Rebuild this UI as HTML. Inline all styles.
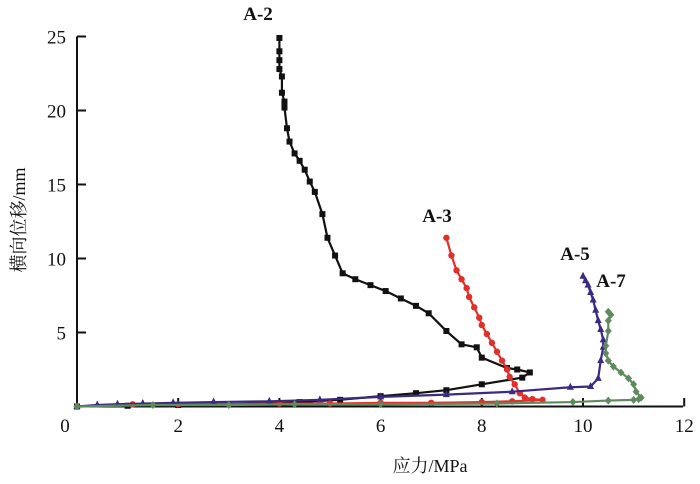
<!DOCTYPE html>
<html><head><meta charset="utf-8"><style>
body{margin:0;background:#fff;}
svg{display:block;}
text{font-family:"Liberation Serif","Noto Serif CJK SC",serif;fill:#111;}
</style></head><body>
<svg id="chart" width="700" height="484" xmlns="http://www.w3.org/2000/svg">
<g id="axes"></g>
<g id="plot"></g>
<text x="430" y="472" font-size="18" text-anchor="middle">应力/MPa</text>
<text transform="translate(25,220) rotate(-90)" font-size="18" text-anchor="middle">横向位移/mm</text>
</svg>
<script>
const xTicks=[0,2,4,6,8,10,12];
const yTicks=[5,10,15,20,25];
const a2x=[0,1,2,3,4.4,5.2,6.0,6.7,7.3,8.0,8.8,8.95,8.7,8.5,8.0,7.9,7.6,7.3,6.95,6.7,6.4,6.1,5.8,5.5,5.25,5.1,4.95,4.85,4.7,4.6,4.5,4.4,4.3,4.2,4.15,4.1,4.1,4.05,4.05,4.0,4.0,4.0,4.0];
const a2y=[0,0.05,0.1,0.15,0.3,0.45,0.7,0.9,1.1,1.5,1.95,2.3,2.5,2.6,3.3,4.0,4.2,5.1,6.3,6.8,7.3,7.8,8.2,8.6,9.0,10.2,11.4,13.0,14.5,15.2,16.0,16.6,17.1,17.9,18.8,20.2,20.6,21.2,22.3,22.8,23.4,24.0,24.9];
const a3x=[0,1.1,2,3,4,5,6,7,8,8.6,9.2,9.0,8.85,8.75,8.65,8.55,8.5,8.4,8.3,8.2,8.1,8.0,7.95,7.85,7.75,7.7,7.6,7.5,7.4,7.3];
const a3y=[0,0.15,0.15,0.15,0.2,0.2,0.25,0.25,0.3,0.35,0.45,0.5,0.6,0.9,1.5,2.0,2.5,3.1,3.7,4.3,4.9,5.5,6.0,6.7,7.4,8.0,8.6,9.2,10.2,11.4];
const a5x=[0,0.4,0.8,1.3,1.9,2.7,3.8,4.8,6.0,7.3,8.6,9.75,10.15,10.3,10.35,10.4,10.4,10.35,10.3,10.25,10.2,10.15,10.1,10.05,10.0];
const a5y=[0,0.1,0.15,0.2,0.25,0.3,0.35,0.45,0.65,0.8,1.0,1.3,1.35,1.9,3.1,4.0,4.5,5.2,5.8,6.5,7.2,7.7,8.2,8.5,8.8];
const a7x=[0,1.5,3,4.3,6,8.3,9.8,10.5,11.0,11.1,11.15,11.05,11.0,10.9,10.75,10.6,10.5,10.45,10.45,10.5,10.5,10.55,10.5];
const a7y=[0,0.1,0.1,0.15,0.15,0.2,0.3,0.4,0.45,0.5,0.6,1.0,1.5,1.9,2.3,2.7,3.1,3.6,4.1,5.1,5.8,6.2,6.4];
const X=v=>77+v*50.6, Y=v=>406.5-v*14.8;
const NS="http://www.w3.org/2000/svg";
function mk(t,a,p){const e=document.createElementNS(NS,t);for(const k in a)e.setAttribute(k,a[k]);p.appendChild(e);return e;}
const ax=document.getElementById('axes'), pl=document.getElementById('plot');
let e=mk('line',{x1:77,y1:406.5,x2:683,y2:406.5,stroke:'#111','stroke-width':2},ax);


e=mk('line',{x1:77,y1:406.5,x2:77,y2:Y(25),stroke:'#111','stroke-width':2},ax);


xTicks.forEach(v=>{
 if(v>0){e=mk('line',{x1:X(v),y1:406.5,x2:X(v),y2:398,stroke:'#111','stroke-width':2},ax);
 
 }
 e=mk('text',{x:X(v)-(v==0?12:0),y:432,'font-size':19,'text-anchor':'middle'},ax);e.textContent=v;
 
 
});
yTicks.forEach(v=>{
 e=mk('line',{x1:77,y1:Y(v),x2:86,y2:Y(v),stroke:'#111','stroke-width':2},ax);
 
 
 e=mk('text',{x:66,y:Y(v)+7,'font-size':19,'text-anchor':'end'},ax);e.textContent=v;
 
 
});
function series(xs,ys,color,shape,name){
 const g=mk('g',{},pl);
 
 
 mk('polyline',{points:xs.map((x,i)=>X(x)+','+Y(ys[i])).join(' '),fill:'none',stroke:color,'stroke-width':2.2},g);
 xs.forEach((x,i)=>{const cx=X(x),cy=Y(ys[i]);let m;
  if(shape=='sq')m=mk('rect',{x:cx-3,y:cy-3,width:6,height:6,fill:color},g);
  else if(shape=='c')m=mk('circle',{cx:cx,cy:cy,r:3.2,fill:color},g);
  else if(shape=='t')m=mk('polygon',{points:`${cx},${cy-4.5} ${cx-3.5},${cy+2.5} ${cx+3.5},${cy+2.5}`,fill:color},g);
  else m=mk('polygon',{points:`${cx},${cy-4} ${cx-3.5},${cy} ${cx},${cy+4} ${cx+3.5},${cy}`,fill:color},g);
  
  
 });
}
series(a2x,a2y,'#111','sq','series-a2');
series(a3x,a3y,'#e0302a','c','series-a3');
series(a5x,a5y,'#3a2a80','t','series-a5');
series(a7x,a7y,'#5e8a5e','d','series-a7');
[['A-2',258,20],['A-3',437,222],['A-5',575,260],['A-7',611,287]].forEach(l=>{
 e=mk('text',{x:l[1],y:l[2],'font-size':19,'text-anchor':'middle','font-weight':'bold'},pl);e.textContent=l[0];
 
 
});
</script>
</body></html>
